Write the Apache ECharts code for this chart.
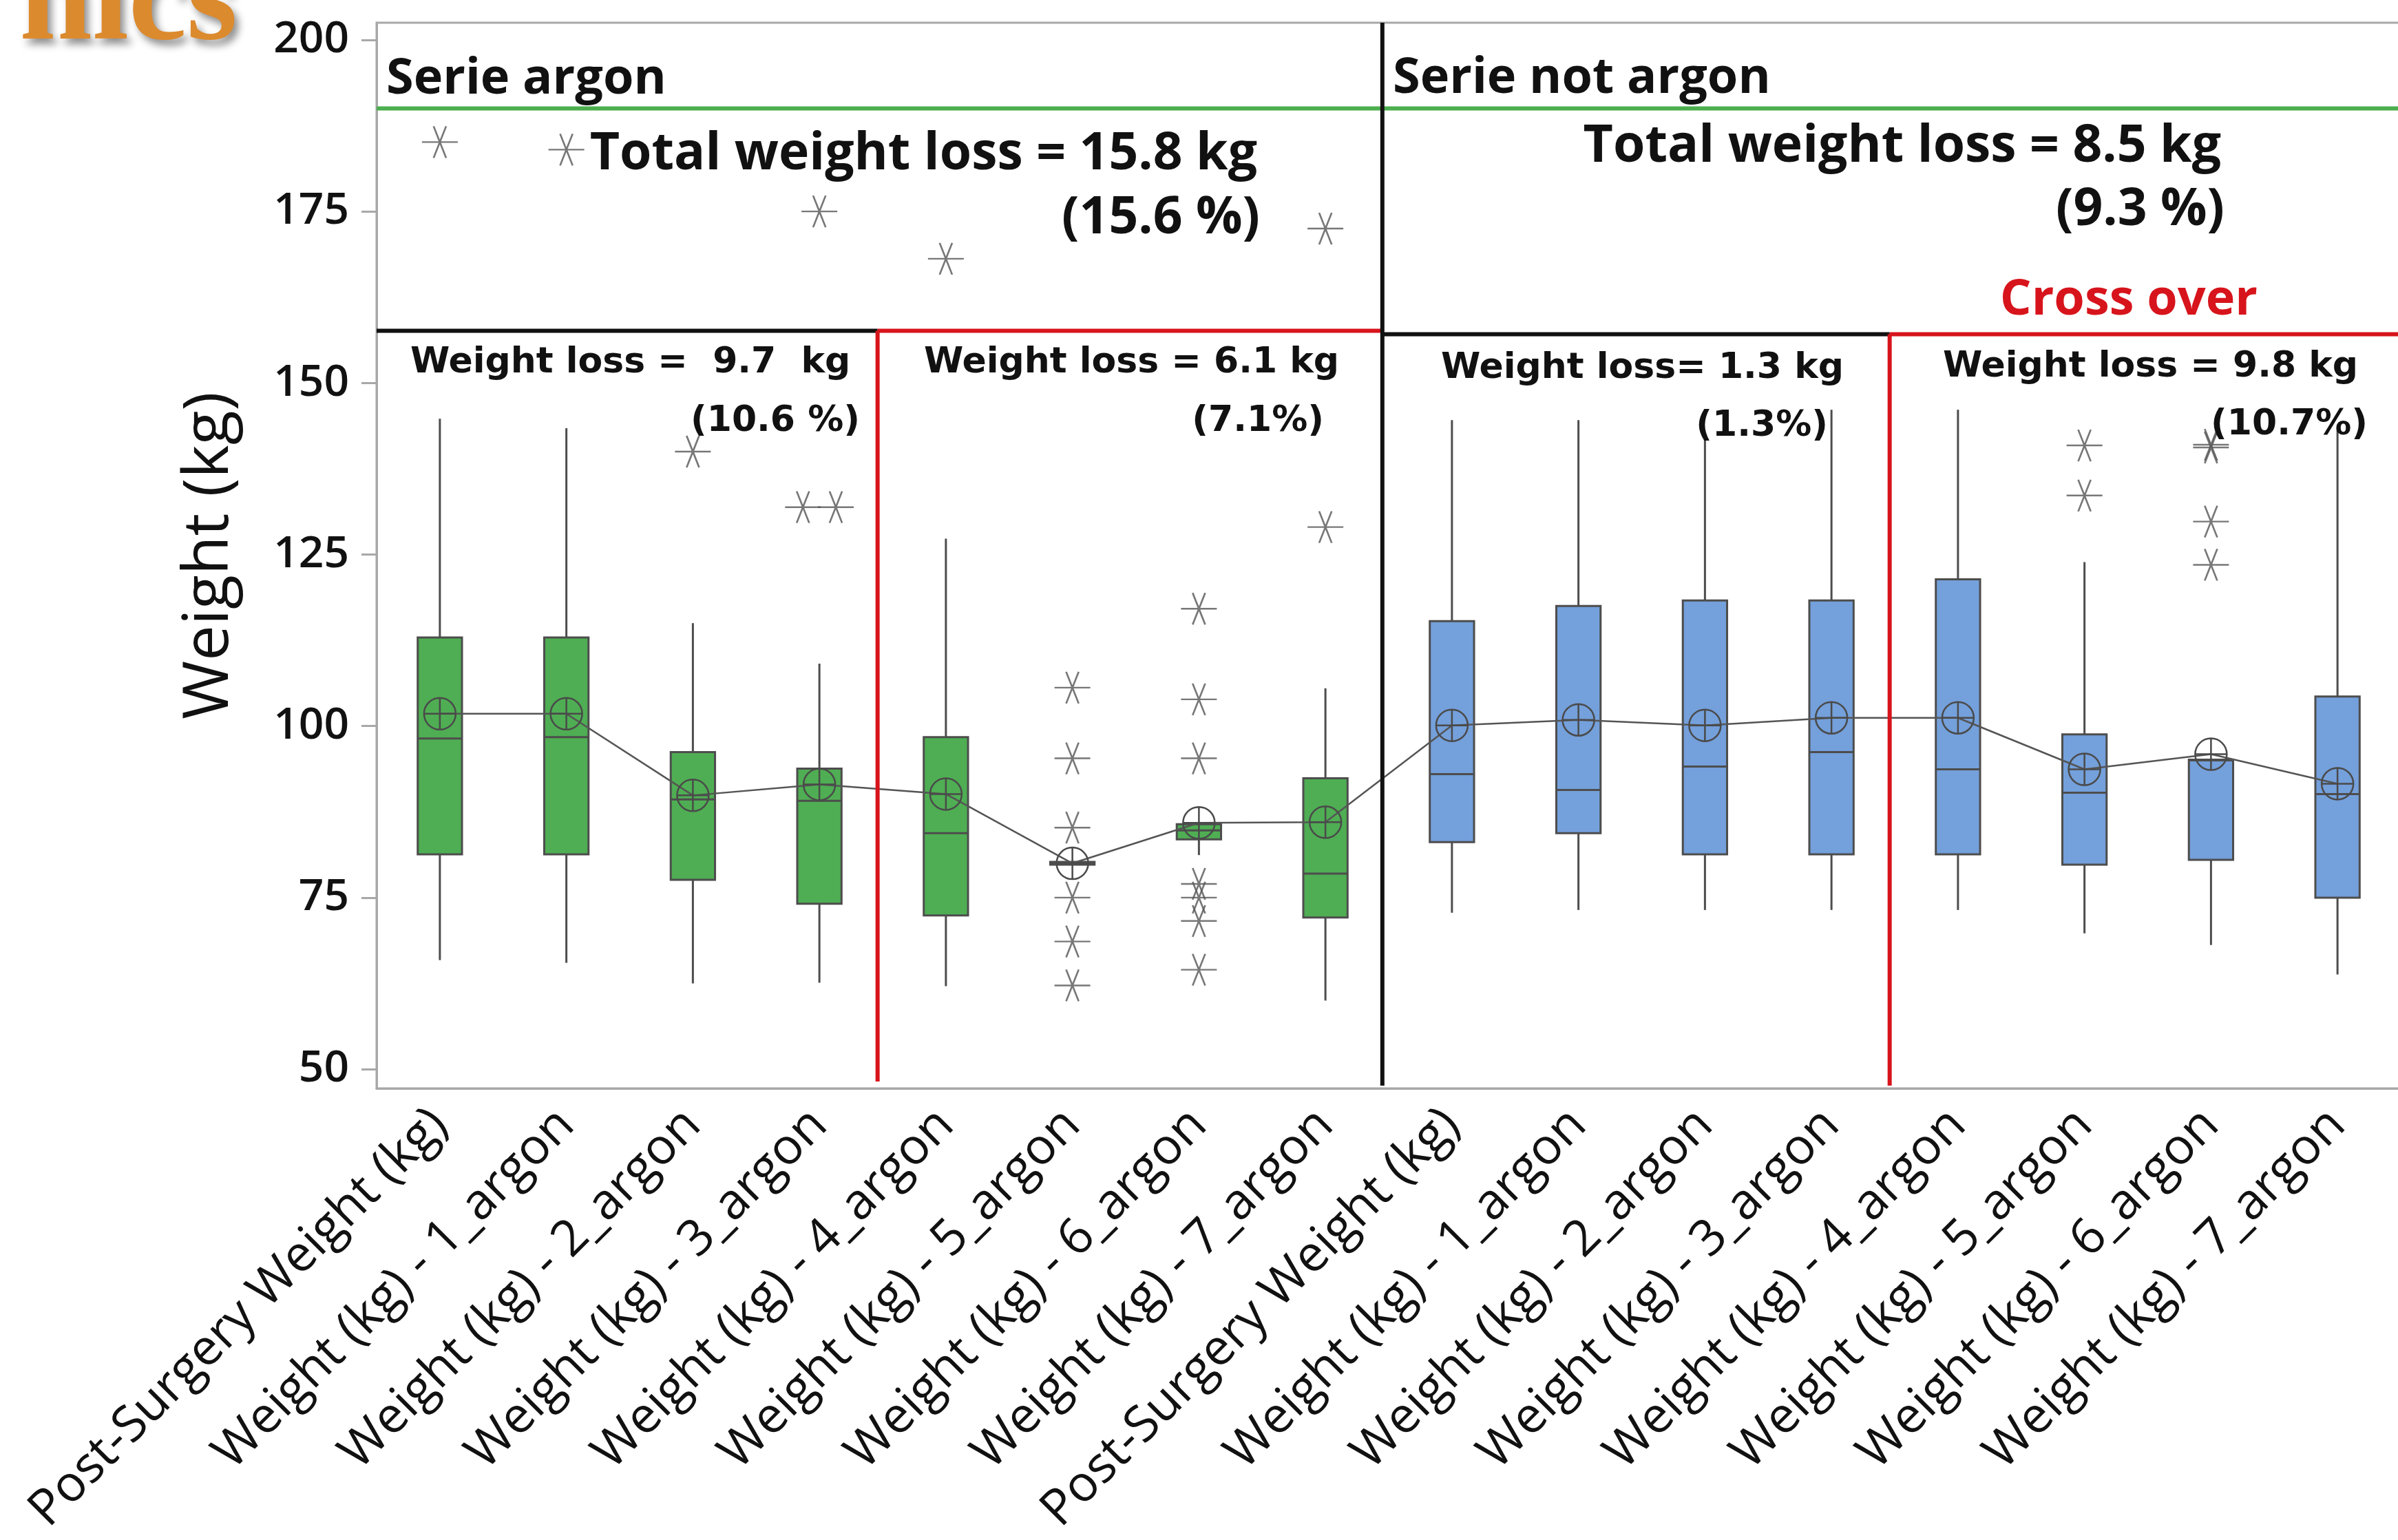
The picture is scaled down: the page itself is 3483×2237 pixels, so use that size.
<!DOCTYPE html>
<html>
<head>
<meta charset="utf-8">
<script src="https://cdn.jsdelivr.net/npm/echarts@6/dist/echarts.min.js"></script>
<style>
  html, body { margin: 0; padding: 0; background: #fff; }
  #chart { width: 3483px; height: 2237px; }
</style>
</head>
<body>
<div id="chart"></div>
<script>
// categories along the x axis
const categories = [
  'Post-Surgery Weight (kg)', 'Weight (kg) - 1_argon', 'Weight (kg) - 2_argon', 'Weight (kg) - 3_argon',
  'Weight (kg) - 4_argon', 'Weight (kg) - 5_argon', 'Weight (kg) - 6_argon', 'Weight (kg) - 7_argon',
  'Post-Surgery Weight (kg)', 'Weight (kg) - 1_argon', 'Weight (kg) - 2_argon', 'Weight (kg) - 3_argon',
  'Weight (kg) - 4_argon', 'Weight (kg) - 5_argon', 'Weight (kg) - 6_argon', 'Weight (kg) - 7_argon'
];
const serie = ['argon', 'argon', 'argon', 'argon', 'argon', 'argon', 'argon', 'argon',
  'not argon', 'not argon', 'not argon', 'not argon', 'not argon', 'not argon', 'not argon', 'not argon'];

// box plot statistics (kg)
const whiskerLow  = [65.9, 65.5, 62.5, 62.6, 62.1, 79.8, 81.2, 60.0, 72.8, 73.2, 73.2, 73.2, 73.2, 69.8, 68.1, 63.8];
const q1          = [81.3, 81.3, 77.6, 74.1, 72.4, 79.8, 83.5, 72.1, 83.1, 84.4, 81.3, 81.3, 81.3, 79.8, 80.5, 75.0];
const median      = [98.2, 98.4, 89.3, 89.1, 84.4, 80.0, 84.8, 78.5, 93.0, 90.7, 94.1, 96.2, 93.7, 90.3, 95.0, 90.1];
const q3          = [112.9, 112.9, 96.2, 93.8, 98.4, 80.2, 85.7, 92.4, 115.3, 117.5, 118.3, 118.3, 121.4, 98.8, 95.1, 104.3];
const whiskerHigh = [144.8, 143.4, 115.0, 109.1, 127.3, 80.2, 85.7, 105.5, 144.6, 144.6, 142.5, 146.1, 146.1, 123.9, 95.1, 143.4];
const means       = [101.8, 101.8, 89.9, 91.5, 90.1, 80.0, 85.9, 86.0, 100.1, 100.9, 100.1, 101.2, 101.2, 93.7, 95.9, 91.6];
const outliers = [
  [185.1], [184.0], [140.0], [175.0, 131.9, 131.9], [168.1],
  [105.6, 95.3, 85.2, 75.0, 68.6, 62.2],
  [117.1, 103.9, 95.3, 77.0, 75.0, 71.6, 64.5],
  [172.5, 129.0],
  [], [], [], [], [], [140.9, 133.6], [141.0, 140.6, 129.8, 123.5], []
];

const yTicks = [50, 75, 100, 125, 150, 175, 200];
const yMin = 47.2;
const yMax = 202.5;

// panel separators, in (category index, kg) units
const panelLines = [
  { kind: 'green', from: [-0.5, 190.0], to: [15.6, 190.0] },
  { kind: 'black', from: [-0.5, 157.6], to: [3.46, 157.6] },
  { kind: 'red',   from: [3.46, 157.6], to: [7.45, 157.6] },
  { kind: 'black', from: [7.45, 157.1], to: [11.46, 157.1] },
  { kind: 'red',   from: [11.46, 157.1], to: [15.6, 157.1] },
  { kind: 'black', from: [7.45, 202.5], to: [7.45, 47.6] },
  { kind: 'red',   from: [3.46, 157.6], to: [3.46, 48.2] },
  { kind: 'red',   from: [11.46, 157.1], to: [11.46, 47.6] }
];

const GREEN = '#4fae53';
const BLUE = '#74a0db';
const EDGE = '#4d4d4d';
const lineColors = { green: '#4cae4f', black: '#111111', red: '#d7141c' };

const MEAN_SYMBOL = 'path://M0,-10A10,10,0,1,1,0,10A10,10,0,1,1,0,-10ZM-10,0L10,0M0,-10L0,10';
const STAR_SYMBOL = 'path://M-10,0L10,0M-3.5,-10L3.5,10M3.5,-10L-3.5,10';

const boxData = categories.map((c, i) => [i, whiskerLow[i], q1[i], median[i], q3[i], whiskerHigh[i]]);

// spread identical outliers side by side, like Minitab does
const outlierPoints = [];
outliers.forEach((vals, i) => {
  const seen = {};
  vals.forEach(v => { seen[v] = (seen[v] || 0) + 1; });
  const used = {};
  vals.forEach(v => {
    const n = seen[v];
    const k = used[v] || 0;
    used[v] = k + 1;
    outlierPoints.push([i + (k - (n - 1) / 2) * 0.26, v]);
  });
});

const chart = echarts.init(document.getElementById('chart'));

const panelSeries = panelLines.map(l => ({
  type: 'line',
  xAxisIndex: 1,
  yAxisIndex: 0,
  data: [l.from, l.to],
  symbol: 'none',
  silent: true,
  z: 5,
  lineStyle: { color: lineColors[l.kind], width: 6 }
}));

function txt(text, x, y, align, opts) {
  return {
    type: 'text',
    x: x,
    y: y,
    z: 100,
    style: Object.assign({
      text: text,
      fill: '#111',
      fontFamily: 'Open Sans',
      fontWeight: 'bold',
      fontSize: 74,
      align: align,
      verticalAlign: 'middle',
      textAlign: align,
      textVerticalAlign: 'middle'
    }, opts || {})
  };
}

const small = { fontFamily: 'DejaVu Sans', fontSize: 52 };

chart.setOption({
  animation: false,
  backgroundColor: '#ffffff',
  grid: {
    left: 547,
    top: 33,
    width: 2940,
    height: 1548,
    show: true,
    borderColor: '#a8a8a8',
    borderWidth: 3,
    containLabel: false,
    outerBoundsMode: 'none'
  },
  xAxis: [
    {
      type: 'category',
      data: categories,
      boundaryGap: true,
      axisLine: { onZero: false, lineStyle: { color: '#a8a8a8', width: 3 } },
      axisTick: { alignWithLabel: true, length: 20, lineStyle: { color: '#a8a8a8', width: 3 } },
      axisLabel: {
        interval: 0,
        rotate: 45,
        margin: 42,
        fontSize: 72.5,
        fontFamily: 'Open Sans',
        color: '#111'
      },
      splitLine: { show: false }
    },
    {
      type: 'value',
      min: -0.5,
      max: 15.5,
      show: false
    }
  ],
  yAxis: {
    type: 'value',
    min: yMin,
    max: yMax,
    name: 'Weight (kg)',
    nameLocation: 'middle',
    nameRotate: 90,
    nameGap: 196,
    nameTextStyle: { fontSize: 92, fontFamily: 'Open Sans', color: '#111' },
    axisLine: { show: true, onZero: false, lineStyle: { color: '#a8a8a8', width: 3 } },
    axisTick: { show: true, length: 22, customValues: yTicks, lineStyle: { color: '#a8a8a8', width: 3 } },
    axisLabel: {
      customValues: yTicks,
      margin: 40,
      fontSize: 64,
      fontFamily: 'Open Sans',
      fontWeight: 600,
      color: '#111'
    },
    splitLine: { show: false }
  },
  series: [
    {
      type: 'custom',
      xAxisIndex: 0,
      yAxisIndex: 0,
      data: boxData,
      encode: { x: 0, y: [1, 2, 3, 4, 5] },
      z: 2,
      silent: true,
      renderItem: function (params, api) {
        const i = api.value(0);
        const pLow = api.coord([i, api.value(1)]);
        const pQ1 = api.coord([i, api.value(2)]);
        const pMed = api.coord([i, api.value(3)]);
        const pQ3 = api.coord([i, api.value(4)]);
        const pHigh = api.coord([i, api.value(5)]);
        const half = api.size([1, 0])[0] * 0.175;
        const x = pQ1[0];
        const fill = serie[i] === 'argon' ? GREEN : BLUE;
        const ls = { stroke: EDGE, lineWidth: 3 };
        return {
          type: 'group',
          children: [
            { type: 'line', shape: { x1: x, y1: pLow[1], x2: x, y2: pQ1[1] }, style: ls },
            { type: 'line', shape: { x1: x, y1: pQ3[1], x2: x, y2: pHigh[1] }, style: ls },
            { type: 'rect', shape: { x: x - half, y: pQ3[1], width: 2 * half, height: Math.max(pQ1[1] - pQ3[1], 1) },
              style: { fill: fill, stroke: EDGE, lineWidth: 3 } },
            { type: 'line', shape: { x1: x - half, y1: pMed[1], x2: x + half, y2: pMed[1] }, style: ls }
          ]
        };
      }
    },
    {
      type: 'line',
      xAxisIndex: 0,
      yAxisIndex: 0,
      data: means,
      z: 3,
      silent: true,
      symbol: MEAN_SYMBOL,
      symbolSize: 46,
      showAllSymbol: true,
      lineStyle: { color: '#555', width: 2.5 },
      itemStyle: { color: 'rgba(0,0,0,0)', borderColor: '#4a4a4a', borderWidth: 2.5 }
    },
    {
      type: 'scatter',
      xAxisIndex: 1,
      yAxisIndex: 0,
      data: outlierPoints,
      z: 3,
      silent: true,
      symbol: STAR_SYMBOL,
      symbolSize: [52, 46],
      itemStyle: { color: 'rgba(0,0,0,0)', borderColor: '#555', borderWidth: 2.5 }
    }
  ].concat(panelSeries),
  graphic: [
    txt('nics', 345, 102, 'right', {
      fontFamily: 'Liberation Serif', fontSize: 190, fill: '#dc8a2e',
      verticalAlign: 'bottom', textVerticalAlign: 'bottom',
      textShadowColor: 'rgba(0,0,0,0.45)', textShadowBlur: 12, textShadowOffsetX: 6, textShadowOffsetY: 8
    }),
    txt('Serie argon', 561, 115, 'left', { fontSize: 72 }),
    txt('Serie not argon', 2023, 114, 'left', { fontSize: 72 }),
    txt('Total weight loss = 15.8 kg', 1826, 225, 'right', { fontSize: 75 }),
    txt('(15.6 %)', 1830, 318, 'right', { fontSize: 75 }),
    txt('Total weight loss = 8.5 kg', 3226, 214, 'right', { fontSize: 75 }),
    txt('(9.3 %)', 3231, 306, 'right', { fontSize: 75 }),
    txt('Cross over', 3279, 436, 'right', { fontSize: 72, fill: '#d7141c' }),
    txt('Weight loss =  9.7  kg', 596, 527, 'left', small),
    txt('(10.6 %)', 1249, 612, 'right', small),
    txt('Weight loss = 6.1 kg', 1342, 527, 'left', small),
    txt('(7.1%)', 1923, 612, 'right', small),
    txt('Weight loss= 1.3 kg', 2093, 535, 'left', small),
    txt('(1.3%)', 2655, 619, 'right', small),
    txt('Weight loss = 9.8 kg', 2822, 533, 'left', small),
    txt('(10.7%)', 3439, 617, 'right', small)
  ]
});
</script>
</body>
</html>
